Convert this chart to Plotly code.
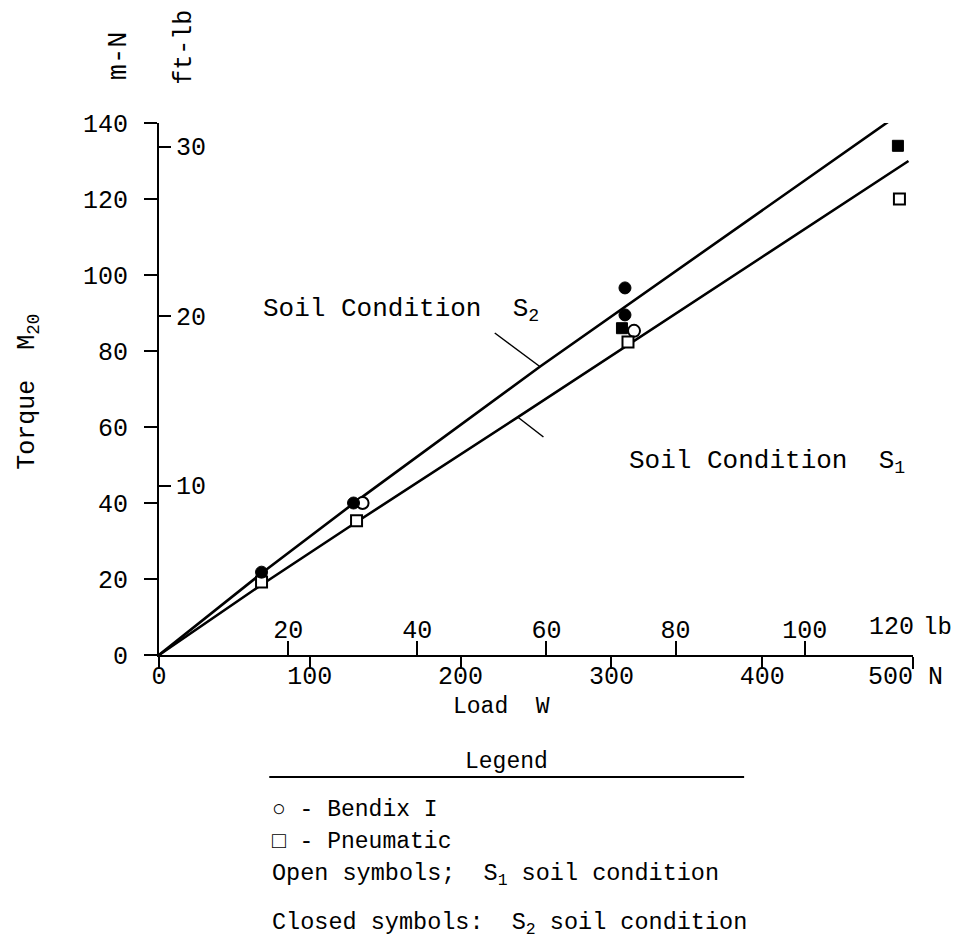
import plotly.graph_objects as go

# ---------------- data ----------------
# Load W in N, torque M20 in m-N
bendix_closed_x = [68, 129, 309, 309]
bendix_closed_y = [21.8, 40.0, 96.6, 89.5]
bendix_open_x = [135, 315]
bendix_open_y = [40.0, 85.3]
pneu_closed_x = [307, 490]
pneu_closed_y = [86.0, 134.0]
pneu_open_x = [68, 131, 311, 491]
pneu_open_y = [19.2, 35.3, 82.4, 120.0]

# fitted curves
s2_x = [0, 68, 131, 253, 483.5]
s2_y = [0, 21.5, 40.5, 76.0, 140.3]
s1_x = [0, 68, 131, 238, 497]
s1_y = [0, 18.5, 35.0, 62.6, 130.0]

# axis ticks
n_ticks = [0, 100, 200, 300, 400, 500]
n_labels = ["0", "100", "200", "300", "400", "500\u00a0N\u00a0"]
mn_ticks = [0, 20, 40, 60, 80, 100, 120, 140]
lb_ticks = [20, 40, 60, 80, 100]
ftlb_ticks = [10, 20, 30]

FONT = "Liberation Mono, DejaVu Sans Mono, monospace"

# plot area in page pixels (the page body adds an 8 px offset)
OFF = 8
L, R, T, B = 159, 918, 123, 655
PAGE_W, PAGE_H = 970, 949
W, H = PAGE_W - OFF, PAGE_H - OFF


def px(x):
    return (x - L) / (R - L)


def py(y):
    return (B - y) / (B - T)


fig = go.Figure()

line_style = dict(color="black", width=2.6)
fig.add_trace(go.Scatter(x=s2_x, y=s2_y, mode="lines", line=line_style,
                         cliponaxis=False, showlegend=False, hoverinfo="skip"))
fig.add_trace(go.Scatter(x=s1_x, y=s1_y, mode="lines", line=line_style,
                         cliponaxis=False, showlegend=False, hoverinfo="skip"))

mk = 12
fig.add_trace(go.Scatter(x=bendix_open_x, y=bendix_open_y, mode="markers",
                         marker=dict(symbol="circle", size=mk, color="white",
                                     line=dict(color="black", width=2)),
                         cliponaxis=False, showlegend=False))
fig.add_trace(go.Scatter(x=pneu_open_x, y=pneu_open_y, mode="markers",
                         marker=dict(symbol="square", size=mk - 1, color="white",
                                     line=dict(color="black", width=2)),
                         cliponaxis=False, showlegend=False))
fig.add_trace(go.Scatter(x=bendix_closed_x, y=bendix_closed_y, mode="markers",
                         marker=dict(symbol="circle", size=mk, color="black",
                                     line=dict(color="black", width=1)),
                         cliponaxis=False, showlegend=False))
fig.add_trace(go.Scatter(x=pneu_closed_x, y=pneu_closed_y, mode="markers",
                         marker=dict(symbol="square", size=mk - 1, color="black",
                                     line=dict(color="black", width=1)),
                         cliponaxis=False, showlegend=False))

# invisible trace to activate secondary axes
fig.add_trace(go.Scatter(x=[0], y=[0], xaxis="x2", yaxis="y2", mode="markers",
                         marker=dict(opacity=0), showlegend=False, hoverinfo="skip"))

tickfont = dict(family=FONT, size=25, color="black")

fig.update_layout(
    width=W, height=H,
    margin=dict(l=L - OFF, r=PAGE_W - R, t=T - OFF, b=PAGE_H - B, pad=0),
    paper_bgcolor="white", plot_bgcolor="white",
    showlegend=False,
    font=dict(family=FONT, color="black"),
    xaxis=dict(range=[0, 500], showline=True, linecolor="black", linewidth=2,
               ticks="outside", ticklen=12, tickwidth=2, tickcolor="black",
               tickvals=n_ticks, ticktext=n_labels,
               tickfont=tickfont, showgrid=False, zeroline=False,
               ticklabelstandoff=-15),
    yaxis=dict(range=[0, 140], showline=True, linecolor="black", linewidth=2,
               ticks="outside", ticklen=13, tickwidth=2, tickcolor="black",
               tickvals=mn_ticks, ticktext=[str(v) for v in mn_ticks],
               tickfont=tickfont, showgrid=False, zeroline=False,
               ticklabelstandoff=11),
    xaxis2=dict(overlaying="x", anchor="y", side="bottom",
                range=[0, (R - L) / 6.5], tickvals=lb_ticks,
                ticktext=[str(v) for v in lb_ticks],
                ticks="inside", ticklen=14, tickwidth=2, tickcolor="black",
                ticklabelposition="inside", tickfont=tickfont,
                showline=False, showgrid=False, zeroline=False),
    yaxis2=dict(overlaying="y", anchor="x", side="left",
                range=[0, (B - T) / 16.95], tickvals=ftlb_ticks,
                ticktext=[str(v) for v in ftlb_ticks],
                ticks="inside", ticklen=12, tickwidth=2, tickcolor="black",
                ticklabelposition="inside", tickfont=tickfont,
                showline=False, showgrid=False, zeroline=False,
                ticklabelstandoff=7),
)

ann = []


def add_text(x, y, text, size=23, xanchor="left", angle=0, yanchor="middle"):
    ann.append(dict(x=px(x), y=py(y), xref="paper", yref="paper", text=text,
                    showarrow=False, xanchor=xanchor, yanchor=yanchor,
                    textangle=angle, font=dict(family=FONT, size=size, color="black")))


# axis unit labels
add_text(119, 56, "m-N", size=27, xanchor="center", angle=-90)
add_text(184, 47, "ft-lb", size=25, xanchor="center", angle=-90)
add_text(27, 392, "Torque  M<sub>20</sub>", size=25, xanchor="center", angle=-90)
add_text(504, 707, "Load  W", size=23, xanchor="center")
add_text(872, 627, "120", size=25, xanchor="left")
add_text(926, 627, "lb", size=24, xanchor="left")

# curve labels
add_text(262, 310, "Soil Condition  S<sub>2</sub>", size=26)
add_text(630, 462, "Soil Condition  S<sub>1</sub>", size=26)

# legend block
add_text(509, 762, "Legend", size=23, xanchor="center")
add_text(271, 810, "○ - Bendix I", size=23)
add_text(271, 842, "□ - Pneumatic", size=23)
add_text(271, 875, "Open symbols;  S<sub>1</sub> soil condition", size=23.5)
add_text(271, 924, "Closed symbols:  S<sub>2</sub> soil condition", size=23.5)

fig.update_layout(annotations=ann)

shapes = [
    # legend rule
    dict(type="line", xref="paper", yref="paper", x0=px(270), x1=px(748),
         y0=py(777), y1=py(777), line=dict(color="black", width=2)),
    # leader lines
    dict(type="line", xref="paper", yref="paper", x0=px(497), x1=px(543),
         y0=py(333), y1=py(367), line=dict(color="black", width=1.5)),
    dict(type="line", xref="paper", yref="paper", x0=px(520), x1=px(546),
         y0=py(417), y1=py(437), line=dict(color="black", width=1.5)),
]
fig.update_layout(shapes=shapes)

fig.write_html("out.html")
